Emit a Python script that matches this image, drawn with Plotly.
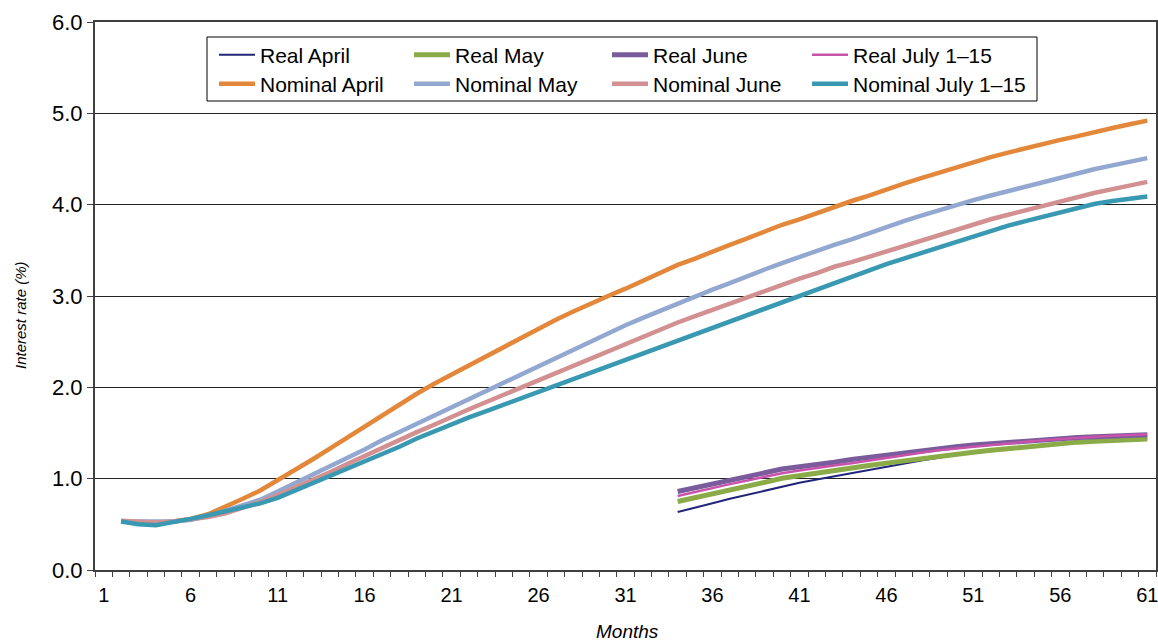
import plotly.graph_objects as go

# ---------------- data ----------------
months_nominal = list(range(2, 62))
months_real = list(range(34, 62))

nominal_april = [0.53, 0.52, 0.51, 0.53, 0.56, 0.61, 0.69, 0.78, 0.87, 0.98,
                 1.10, 1.21, 1.33, 1.45, 1.57, 1.70, 1.82, 1.93, 2.04, 2.14,
                 2.24, 2.34, 2.45, 2.55, 2.65, 2.74, 2.83, 2.92, 3.00, 3.08,
                 3.17, 3.26, 3.34, 3.41, 3.49, 3.56, 3.63, 3.71, 3.78, 3.84,
                 3.91, 3.98, 4.04, 4.10, 4.17, 4.23, 4.29, 4.35, 4.41, 4.47,
                 4.52, 4.57, 4.62, 4.66, 4.71, 4.75, 4.80, 4.84, 4.88, 4.92]
nominal_may = [0.53, 0.53, 0.52, 0.53, 0.55, 0.59, 0.65, 0.71, 0.77, 0.86,
               0.95, 1.04, 1.13, 1.22, 1.32, 1.42, 1.51, 1.60, 1.69, 1.79,
               1.88, 1.97, 2.06, 2.15, 2.24, 2.33, 2.42, 2.51, 2.60, 2.68,
               2.76, 2.84, 2.92, 3.00, 3.07, 3.14, 3.22, 3.29, 3.36, 3.43,
               3.50, 3.56, 3.62, 3.69, 3.76, 3.82, 3.88, 3.94, 4.00, 4.05,
               4.10, 4.15, 4.20, 4.25, 4.30, 4.34, 4.39, 4.43, 4.47, 4.51]
nominal_june = [0.54, 0.53, 0.52, 0.53, 0.55, 0.58, 0.62, 0.68, 0.745, 0.82,
                0.90, 0.985, 1.07, 1.16, 1.25, 1.34, 1.43, 1.51, 1.59, 1.68,
                1.76, 1.84, 1.92, 2.00, 2.08, 2.16, 2.24, 2.32, 2.40, 2.48,
                2.56, 2.64, 2.71, 2.78, 2.85, 2.92, 2.99, 3.06, 3.13, 3.19,
                3.25, 3.32, 3.37, 3.43, 3.49, 3.54, 3.60, 3.66, 3.72, 3.78,
                3.84, 3.89, 3.94, 3.98, 4.03, 4.08, 4.13, 4.17, 4.21, 4.25]
nominal_july = [0.53, 0.50, 0.49, 0.52, 0.56, 0.60, 0.64, 0.68, 0.73, 0.79,
                0.87, 0.95, 1.03, 1.10, 1.18, 1.27, 1.35, 1.44, 1.52, 1.60,
                1.67, 1.74, 1.81, 1.88, 1.96, 2.03, 2.10, 2.17, 2.24, 2.31,
                2.38, 2.45, 2.52, 2.58, 2.65, 2.72, 2.79, 2.86, 2.93, 3.00,
                3.07, 3.14, 3.22, 3.28, 3.35, 3.41, 3.47, 3.54, 3.60, 3.66,
                3.72, 3.77, 3.82, 3.87, 3.92, 3.97, 4.01, 4.04, 4.07, 4.09]

real_april = [0.635, 0.68, 0.73, 0.78, 0.825, 0.87, 0.915, 0.955, 0.99, 1.025,
              1.06, 1.10, 1.135, 1.17, 1.20, 1.23, 1.26, 1.28, 1.30, 1.32,
              1.34, 1.36, 1.38, 1.40, 1.41, 1.42, 1.43, 1.44]
real_may = [0.75, 0.79, 0.835, 0.875, 0.915, 0.96, 1.005, 1.035, 1.06, 1.09,
            1.12, 1.145, 1.17, 1.195, 1.225, 1.25, 1.27, 1.29, 1.31, 1.33,
            1.35, 1.37, 1.385, 1.40, 1.41, 1.42, 1.43, 1.435]
real_june = [0.86, 0.90, 0.94, 0.985, 1.025, 1.065, 1.105, 1.13, 1.15, 1.18,
             1.21, 1.235, 1.26, 1.285, 1.31, 1.33, 1.35, 1.37, 1.385, 1.40,
             1.415, 1.43, 1.44, 1.45, 1.46, 1.47, 1.475, 1.48]
real_july = [0.81, 0.855, 0.90, 0.94, 0.98, 1.02, 1.06, 1.09, 1.12, 1.145,
             1.17, 1.20, 1.23, 1.26, 1.285, 1.31, 1.33, 1.35, 1.37, 1.39,
             1.405, 1.42, 1.435, 1.45, 1.46, 1.47, 1.48, 1.485]

x_tick_values = list(range(1, 62, 5))
x_tick_labels = [str(v) for v in x_tick_values]
y_tick_values = [0, 1, 2, 3, 4, 5, 6]

# ---------------- styling ----------------
FONT = "Liberation Sans, Arial, sans-serif"
real_series = [
    ("Real April", real_april, "#22267A", 2),
    ("Real May", real_may, "#8BAA48", 5),
    ("Real June", real_june, "#7A5C9C", 5),
    ("Real July 1\u201315", real_july, "#C853AA", 2.5),
]
nominal_series = [
    ("Nominal April", nominal_april, "#E3873A", 4.5),
    ("Nominal May", nominal_may, "#93A8D1", 4.5),
    ("Nominal June", nominal_june, "#D39090", 4.5),
    ("Nominal July 1\u201315", nominal_july, "#3A99B2", 4.5),
]

# plot area in pixels: left 95, right 1156, top 22, bottom 570
L, R, T, B = 95, 1156, 22, 570
W, H = 1158, 642
PW, PH = R - L, B - T


def px_x(px):
    return (px - L) / PW


def px_y(py):
    return 1 - (py - T) / PH


legend_cols_px = [214, 409, 607, 807]
legend_rows_px = [55, 84]

fig = go.Figure()
legend_layouts = {}
k = 0
for row, group in enumerate([real_series, nominal_series]):
    for col, (name, vals, color, w) in enumerate(group):
        k += 1
        key = "legend" if k == 1 else f"legend{k}"
        xs = months_real if row == 0 else months_nominal
        fig.add_trace(go.Scatter(x=xs, y=vals, name=name, mode="lines",
                                 line=dict(color=color, width=w), legend=key))
        legend_layouts[key] = dict(
            x=px_x(legend_cols_px[col]), y=px_y(legend_rows_px[row]),
            xanchor="left", yanchor="middle", orientation="h",
            bgcolor="rgba(0,0,0,0)", borderwidth=0, itemwidth=36,
            font=dict(family=FONT, size=21, color="#000000"),
            itemclick=False, itemdoubleclick=False)

fig.update_layout(
    width=W, height=H,
    margin=dict(l=L, r=W - R, t=T, b=H - B, autoexpand=False),
    paper_bgcolor="white", plot_bgcolor="white",
    font=dict(family=FONT, size=19, color="#000000"),
    showlegend=True,
    xaxis=dict(
        range=[0.5, 61.5], tickmode="array", tickvals=x_tick_values,
        ticktext=x_tick_labels, ticks="", showgrid=False, zeroline=False,
        showline=True, linecolor="#404040", linewidth=2, mirror=True,
        automargin=False, ticklabelstandoff=6, ticklabeloverflow="allow",
        tickfont=dict(family=FONT, size=20),
        minor=dict(ticks="outside", tick0=0.5, dtick=1, ticklen=5,
                   tickcolor="#404040", tickwidth=1, showgrid=False),
    ),
    yaxis=dict(
        range=[0, 6], tickmode="array", tickvals=y_tick_values,
        tickformat=".1f", ticks="outside", ticklen=6, tickcolor="#404040",
        tickwidth=1, showgrid=True, gridcolor="#222222", gridwidth=1.3,
        zeroline=False, showline=True, linecolor="#404040", linewidth=2,
        mirror=True, automargin=False, ticklabeloverflow="allow",
        tickfont=dict(family=FONT, size=22),
    ),
    shapes=[dict(type="rect", xref="paper", yref="paper",
                 x0=px_x(207), x1=px_x(1037), y0=px_y(101), y1=px_y(37),
                 line=dict(color="#000000", width=1), fillcolor="rgba(0,0,0,0)",
                 layer="above")],
    annotations=[
        dict(text="<i>Months</i>", xref="paper", yref="paper",
             x=px_x(627), y=px_y(631), xanchor="center", yanchor="middle",
             showarrow=False, font=dict(family=FONT, size=19)),
        dict(text="<i>Interest rate (%)</i>", xref="paper", yref="paper",
             x=px_x(20), y=px_y(315), xanchor="center", yanchor="middle",
             textangle=-90, showarrow=False, font=dict(family=FONT, size=15)),
    ],
    **legend_layouts,
)

fig.write_html("out.html", config={"displayModeBar": False},
               post_script="document.body.style.margin='0px';"
                           "document.body.style.padding='0px';")
